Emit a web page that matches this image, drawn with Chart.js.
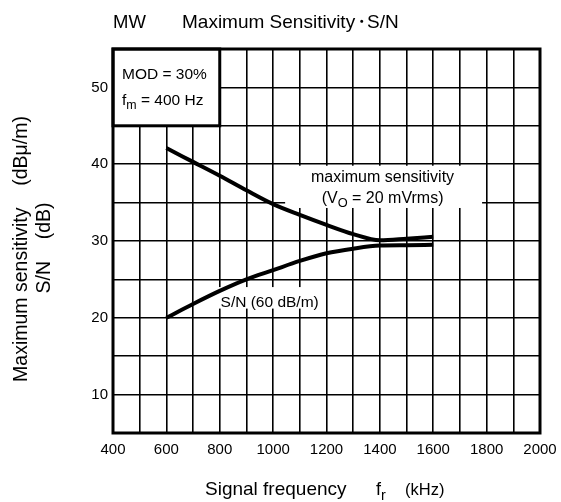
<!DOCTYPE html>
<html>
<head>
<meta charset="utf-8">
<script src="https://cdn.jsdelivr.net/npm/chart.js@4.4.1/dist/chart.umd.min.js"></script>
<style>
  html, body { margin: 0; padding: 0; background: #fff; }
</style>
</head>
<body>
<canvas id="chart" width="561" height="502"></canvas>
<script>
// values (kHz / dB)
const freqs = [600, 700, 800, 900, 1000, 1100, 1200, 1300, 1400, 1500, 1600];
const maxSensitivity = [42.1, 40.3, 38.5, 36.6, 34.8, 33.4, 32.1, 30.9, 30.1, 30.3, 30.55];
const snRatio = [20.0, 21.8, 23.5, 25.0, 26.2, 27.4, 28.4, 29.0, 29.4, 29.45, 29.5];
const xTickLabels = [400, 600, 800, 1000, 1200, 1400, 1600, 1800, 2000];
const yTickLabels = [10, 20, 30, 40, 50];

const FONT = '"Liberation Sans", Arial, Helvetica, sans-serif';

// text with subscripts: runs = [[text, isSub], ...]
function runsWidth(ctx, runs, size) {
  let w = 0;
  for (const [t, sub] of runs) {
    ctx.font = (sub ? size * 0.8 : size) + 'px ' + FONT;
    w += ctx.measureText(t).width;
  }
  return w;
}
function drawRuns(ctx, x, y, runs, size, align) {
  let cx = x;
  if (align === 'center') cx = x - runsWidth(ctx, runs, size) / 2;
  ctx.textAlign = 'left';
  ctx.textBaseline = 'alphabetic';
  for (const [t, sub] of runs) {
    ctx.font = (sub ? size * 0.8 : size) + 'px ' + FONT;
    ctx.fillText(t, cx, y + (sub ? size * 0.28 : 0));
    cx += ctx.measureText(t).width;
  }
}

const notes = {
  id: 'notes',
  beforeDatasetsDraw(chart) {
    const { ctx, scales: { x, y } } = chart;
    ctx.save();
    ctx.fillStyle = '#fff';
    // white backgrounds of the curve labels
    ctx.fillRect(x.getPixelForValue(1045), y.getPixelForValue(39.8),
      x.getPixelForValue(1783) - x.getPixelForValue(1045), y.getPixelForValue(34.3) - y.getPixelForValue(39.8));
    ctx.fillRect(x.getPixelForValue(795), y.getPixelForValue(24.0),
      x.getPixelForValue(1185) - x.getPixelForValue(795), y.getPixelForValue(21.2) - y.getPixelForValue(24.0));
    // condition box
    const bx0 = x.getPixelForValue(400), bx1 = x.getPixelForValue(800);
    const by0 = y.getPixelForValue(55), by1 = y.getPixelForValue(45);
    ctx.fillRect(bx0, by0, bx1 - bx0, by1 - by0);
    ctx.strokeStyle = '#000';
    ctx.lineWidth = 3;
    ctx.strokeRect(bx0, by0, bx1 - bx0, by1 - by0);

    ctx.fillStyle = '#000';
    drawRuns(ctx, bx0 + 9, by0 + 30, [['MOD = 30%', false]], 15.5);
    drawRuns(ctx, bx0 + 9, by0 + 56, [['f', false], ['m', true], [' = 400 Hz', false]], 15.5);

    const mx = x.getPixelForValue(1410);
    const my = y.getPixelForValue(37.2);
    drawRuns(ctx, mx, my - 4, [['maximum sensitivity', false]], 16, 'center');
    drawRuns(ctx, mx, my + 17, [['(V', false], ['O', true], [' = 20 mVrms)', false]], 16, 'center');

    drawRuns(ctx, x.getPixelForValue(803), y.getPixelForValue(22.25) + 6, [['S/N (60 dB/m)', false]], 15.5);
    ctx.restore();
  },
  afterDatasetsDraw(chart) {
    const { ctx, chartArea: a } = chart;
    ctx.save();
    ctx.strokeStyle = '#000';
    ctx.lineWidth = 3;
    ctx.strokeRect(a.left, a.top, a.right - a.left, a.bottom - a.top);
    ctx.restore();
  },
  afterDraw(chart) {
    const { ctx } = chart;
    ctx.save();
    ctx.fillStyle = '#000';
    drawRuns(ctx, 113, 28, [['MW', false]], 18.5);
    drawRuns(ctx, 182, 28, [['Maximum Sensitivity', false]], 19);
    drawRuns(ctx, 361, 28, [['・', false]], 19, 'center');
    drawRuns(ctx, 367, 28, [['S/N', false]], 19);

    drawRuns(ctx, 205, 495, [['Signal frequency', false]], 19);
    drawRuns(ctx, 376, 495, [['f', false], ['r', true]], 18);
    drawRuns(ctx, 405, 495, [['(kHz)', false]], 16.5);

    ctx.translate(27, 249);
    ctx.rotate(-Math.PI / 2);
    drawRuns(ctx, 0, 0, [['Maximum sensitivity    (dBμ/m)', false]], 19.5, 'center');
    ctx.setTransform(1, 0, 0, 1, 0, 0);
    ctx.translate(50, 248);
    ctx.rotate(-Math.PI / 2);
    drawRuns(ctx, 0, 0, [['S/N    (dB)', false]], 19.5, 'center');
    ctx.restore();
  }
};

const ctx = document.getElementById('chart').getContext('2d');
new Chart(ctx, {
  type: 'line',
  data: {
    datasets: [
      {
        label: 'maximum sensitivity',
        data: freqs.map((f, i) => ({ x: f, y: maxSensitivity[i] })),
        borderColor: '#000',
        borderWidth: 4,
        pointRadius: 0,
        cubicInterpolationMode: 'monotone'
      },
      {
        label: 'S/N (60 dB/m)',
        data: freqs.map((f, i) => ({ x: f, y: snRatio[i] })),
        borderColor: '#000',
        borderWidth: 4,
        pointRadius: 0,
        cubicInterpolationMode: 'monotone'
      }
    ]
  },
  options: {
    responsive: false,
    animation: false,
    layout: { padding: { left: 0, top: 49, right: 21, bottom: 0 } },
    plugins: {
      legend: { display: false },
      tooltip: { enabled: false }
    },
    scales: {
      x: {
        type: 'linear',
        min: 400,
        max: 2000,
        afterFit: (scale) => {
          scale.height = 69;
          scale.paddingLeft = 0;
          scale.paddingRight = 0;
        },
        grid: { color: '#000', lineWidth: 1.6, drawTicks: false },
        border: { display: false },
        ticks: {
          stepSize: 100,
          padding: 8,
          color: '#000',
          font: { family: FONT, size: 15 },
          maxRotation: 0,
          autoSkip: false,
          callback: (v) => xTickLabels.includes(v) ? String(v) : ''
        }
      },
      y: {
        min: 5,
        max: 55,
        afterFit: (scale) => {
          scale.width = 113;
          scale.paddingTop = 0;
          scale.paddingBottom = 0;
        },
        grid: { color: '#000', lineWidth: 1.6, drawTicks: false },
        border: { display: false },
        ticks: {
          stepSize: 5,
          padding: 5,
          color: '#000',
          font: { family: FONT, size: 15 },
          autoSkip: false,
          callback: (v) => yTickLabels.includes(v) ? String(v) : ''
        }
      }
    }
  },
  plugins: [notes]
});
</script>
</body>
</html>
